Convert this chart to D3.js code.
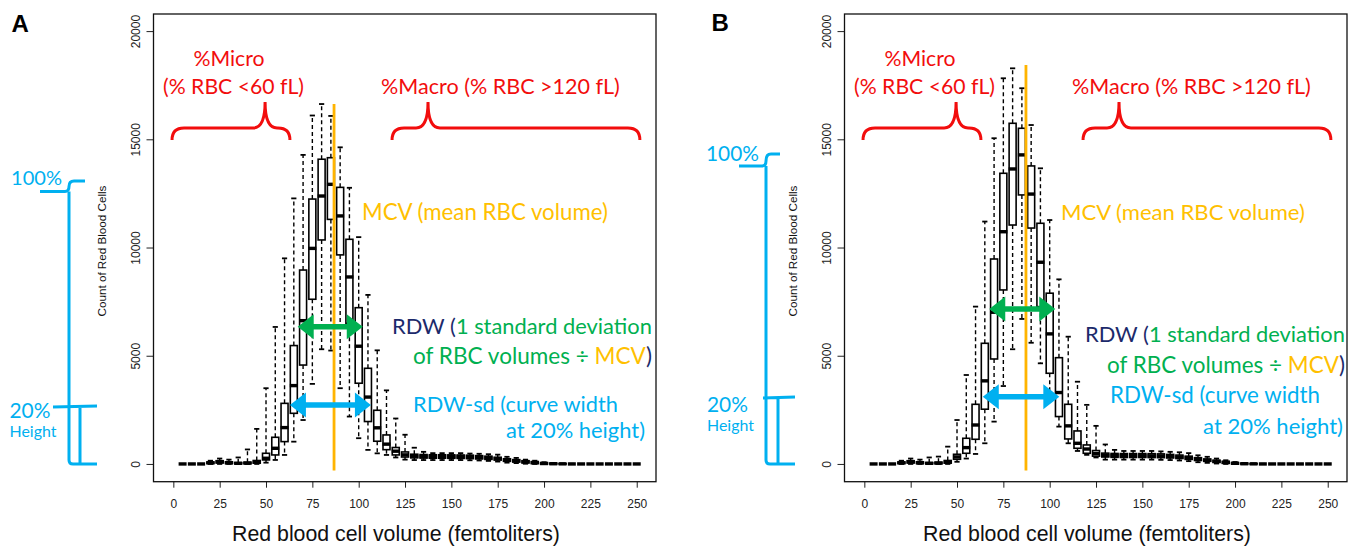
<!DOCTYPE html>
<html>
<head>
<meta charset="utf-8">
<script src="https://cdn.jsdelivr.net/npm/d3@7"></script>
<style>
  body { margin: 0; background: #fff; }
  svg { display: block; }
  .note { font-family: Lato, "Open Sans", sans-serif; }
  .plain { font-family: "Liberation Sans", Arial, sans-serif; }
</style>
</head>
<body>
<svg id="chart" width="1360" height="547"></svg>
<script>
// bin centres, fL
const volumes = [5,10,15,20,25,30,35,40,45,50,55,60,65,70,75,80,85,90,95,100,105,110,115,120,125,
                 130,135,140,145,150,155,160,165,170,175,180,185,190,195,200,205,210,215,220,225,230,235,240,245,250];

// panel A box stats (count of cells)
const aLow  = [0,0,0,0,0,0,0,0,0,60,185,416,1030,2030,3700,5300,5240,3500,2190,1190,650,490,416,300,200,
               180,180,180,180,180,180,170,160,140,110,60,40,10,0,0,0,0,0,0,0,0,0,0,0,0];
const aQ1   = [0,0,0,25,50,25,10,15,40,185,416,1032,2340,4570,7610,10350,11300,9660,6500,3730,1960,1050,660,416,320,
               280,270,265,265,260,255,245,230,210,180,120,90,50,20,0,0,0,0,0,0,0,0,0,0,0];
const aMed  = [0,0,0,50,90,50,30,40,80,262,724,1680,3620,6620,9960,12380,12920,11460,8640,5440,3090,1670,915,590,420,
               360,350,345,345,340,335,325,305,280,240,175,140,95,60,20,10,5,0,0,0,0,0,0,0,0];
const aQ3   = [0,0,0,90,150,100,60,80,160,493,1232,2800,5470,8960,12240,14080,14150,12780,10380,7220,4420,2480,1340,760,555,
               450,435,425,425,420,415,405,385,360,310,240,200,150,110,60,30,10,0,0,0,0,0,0,0,0];
const aHigh = [0,0,0,150,250,200,300,670,1620,3500,6330,9500,12270,14280,16100,16630,16080,14630,12760,10480,7810,5250,3400,2100,1350,
               750,560,500,500,500,500,480,470,450,430,330,280,200,150,80,40,20,10,0,0,0,0,0,0,0];

// panel B box stats
const bLow  = [0,0,0,0,0,0,0,0,0,100,250,462,955,1956,3600,5300,6700,5600,4650,2960,1725,955,600,420,300,
               200,200,200,200,200,200,190,180,160,130,80,50,20,0,0,0,0,0,0,0,0,0,0,0,0];
const bQ1   = [0,0,0,25,50,25,10,15,40,216,493,1140,2530,4850,8040,11040,12430,10900,7270,4190,2190,1155,724,493,360,
               320,305,300,300,300,295,290,275,250,210,160,120,70,30,0,0,0,0,0,0,0,0,0,0,0];
const bMed  = [0,0,0,50,90,50,30,40,80,324,755,1800,3840,7010,10730,13630,14280,12470,9320,6010,3300,1760,955,690,480,
               400,390,385,380,380,375,370,350,320,280,220,170,120,70,30,10,5,0,0,0,0,0,0,0,0];
const bQ3   = [0,0,0,90,150,100,60,80,160,447,1186,2756,5575,9470,13430,15740,15510,13770,11120,7890,4910,2756,1525,878,620,
               500,485,480,480,480,475,465,440,410,360,290,230,170,120,60,30,10,0,0,0,0,0,0,0,0];
const bHigh = [0,0,0,150,250,200,300,340,800,2030,4110,7270,11200,15050,17820,18280,17360,15660,13660,11270,8530,5880,3800,2730,1760,
               900,650,600,600,600,600,580,560,540,500,400,330,250,170,90,40,20,10,0,0,0,0,0,0,0];

const xTicks = [0,25,50,75,100,125,150,175,200,225,250];
const yTicks = [0,5000,10000,15000,20000];

const RED = '#f20d0d', ORANGE = '#ffc000', GOLD = '#ffb400', GREEN = '#00b050', NAVY = '#1c2a6b', BLUE = '#00b0f0';

const svg = d3.select('#chart');
svg.append('rect').attr('width', 1360).attr('height', 547).attr('fill', '#fff');

const x = d3.scaleLinear().domain([-10.7, 260.4]).range([153.5, 656]);
const y = d3.scaleLinear().domain([-820, 20790]).range([481.7, 14]);

// shrink or grow font so the text spans w pixels
function fit(t, w) {
  const len = t.node().getComputedTextLength();
  const fs = parseFloat(t.style('font-size'));
  t.style('font-size', (fs * w / len) + 'px');
}

function note(g, parts, px, py, anchor, w, cls = 'note') {
  const t = g.append('text').attr('class', cls)
    .attr('x', px).attr('y', py).attr('text-anchor', anchor).style('font-size', '20px');
  parts.forEach(([s, c]) => t.append('tspan').attr('fill', c).text(s));
  if (w) fit(t, w);
  return t;
}

function brace(x0, x1, xt, yEnd, yBar, yTip, r) {
  return `M${x0},${yEnd}Q${x0},${yBar} ${x0 + r},${yBar}L${xt - r},${yBar}Q${xt},${yBar} ${xt},${yTip}` +
         `Q${xt},${yBar} ${xt + r},${yBar}L${x1 - r},${yBar}Q${x1},${yBar} ${x1},${yEnd}`;
}

function dblArrow(xa, xb, yc) {
  const hl = 16, hh = 12.5, s = 2.8;
  return d3.line()([[xa, yc], [xa + hl, yc - hh], [xa + hl, yc - s], [xb - hl, yc - s], [xb - hl, yc - hh], [xb, yc],
                    [xb - hl, yc + hh], [xb - hl, yc + s], [xa + hl, yc + s], [xa + hl, yc + hh]]) + 'Z';
}

function panel(dx, s, a) {
  const g = svg.append('g').attr('transform', `translate(${dx},0)`);
  const [x0, x1] = x.range(), [yb, yt] = y.range();

  // axes
  const ya = g.append('g').attr('transform', `translate(${x0},0)`)
    .call(d3.axisLeft(y).tickValues(yTicks).tickSize(7).tickFormat(d3.format('d')));
  ya.select('.domain').remove();
  ya.attr('font-family', '"Liberation Sans", Arial, sans-serif').attr('font-size', 12).attr('color', '#222');
  ya.selectAll('text').attr('x', 0).attr('dy', 0).attr('text-anchor', 'middle')
    .attr('transform', 'translate(-13.5,0) rotate(-90)');

  const xa = g.append('g').attr('transform', `translate(0,${yb})`)
    .call(d3.axisBottom(x).tickValues(xTicks).tickSize(6).tickPadding(12));
  xa.select('.domain').remove();
  xa.attr('font-family', '"Liberation Sans", Arial, sans-serif').attr('font-size', 12).attr('color', '#222');

  g.append('rect').attr('x', x0).attr('y', yt).attr('width', x1 - x0).attr('height', yb - yt)
    .attr('fill', 'none').attr('stroke', '#111').attr('stroke-width', 1.3);

  note(g, [['Count of Red Blood Cells', '#111']], 0, 0, 'middle', 131, 'plain')
    .attr('transform', 'translate(106,251) rotate(-90)');
  note(g, [['Red blood cell volume (femtoliters)', '#111']], 396, 541, 'middle', 328, 'plain');
  note(g, [[a.letter, '#000']], a.letterX, a.letterY, 'start', null, 'plain')
    .style('font-size', '24px').style('font-weight', 'bold');

  // box plots
  const rows = volumes.map((v, i) => ({v, lo: s.low[i], q1: s.q1[i], med: s.med[i], q3: s.q3[i], hi: s.high[i]}));
  const bw = 7;
  const plot = g.append('g');
  plot.selectAll('line.up').data(rows).join('line').attr('class', 'up')
    .attr('x1', d => x(d.v)).attr('x2', d => x(d.v)).attr('y1', d => y(d.q3)).attr('y2', d => y(d.hi));
  plot.selectAll('line.down').data(rows).join('line').attr('class', 'down')
    .attr('x1', d => x(d.v)).attr('x2', d => x(d.v)).attr('y1', d => y(d.q1)).attr('y2', d => y(d.lo));
  plot.selectAll('line.up, line.down').attr('stroke', '#000').attr('stroke-width', 1.4).attr('stroke-dasharray', '4,3');
  plot.selectAll('line.cap').data(rows.flatMap(d => [[d.v, d.hi], [d.v, d.lo]])).join('line').attr('class', 'cap')
    .attr('x1', d => x(d[0]) - 2.6).attr('x2', d => x(d[0]) + 2.6).attr('y1', d => y(d[1])).attr('y2', d => y(d[1]))
    .attr('stroke', '#000').attr('stroke-width', 1.8);
  plot.selectAll('rect.box').data(rows).join('rect').attr('class', 'box')
    .attr('x', d => x(d.v) - bw / 2).attr('width', bw)
    .attr('y', d => y(d.q3)).attr('height', d => y(d.q1) - y(d.q3))
    .attr('fill', '#fff').attr('stroke', '#000').attr('stroke-width', 1.6);
  plot.selectAll('rect.med').data(rows).join('rect').attr('class', 'med')
    .attr('x', d => x(d.v) - bw / 2 - 0.5).attr('width', bw + 1)
    .attr('y', d => y(d.med) - 1.7).attr('height', 3.4).attr('fill', '#000');

  // MCV line
  g.append('line').attr('x1', x(a.mcv)).attr('x2', x(a.mcv)).attr('y1', y(a.mcvTop)).attr('y2', y(-300))
    .attr('stroke', GOLD).attr('stroke-width', 2.8);

  // arrows
  g.append('path').attr('d', dblArrow(x(a.green[0]), x(a.green[1]), y(a.green[2]))).attr('fill', GREEN);
  g.append('path').attr('d', dblArrow(x(a.blue[0]), x(a.blue[1]), y(a.blue[2]))).attr('fill', BLUE);

  // braces for micro / macro
  const bY = [y(14968), y(15522), y(16723)];
  g.append('path').attr('d', brace(x(-0.7), x(62.9), x(49.5), ...bY, 12))
    .attr('fill', 'none').attr('stroke', RED).attr('stroke-width', 3);
  g.append('path').attr('d', brace(x(118), x(251.7), x(137.4), ...bY, 12))
    .attr('fill', 'none').attr('stroke', RED).attr('stroke-width', 3);

  // height brackets on the left
  const b = a.br, yH = y(a.hundred), yT = y(a.twenty), yZ = y(0);
  const bl = g.append('g').attr('fill', 'none').attr('stroke', BLUE).attr('stroke-width', 3);
  bl.append('path').attr('d', `M${b.lineX0},${yH}L${b.vx - 4},${yH}Q${b.vx},${yH} ${b.vx},${yH - 5}` +
    `Q${b.vx},${b.curlY} ${b.vx + 5},${b.curlY}L${b.curlX},${b.curlY}`);
  bl.append('path').attr('d', `M${b.vx},${yH}L${b.vx},${yZ - 4}Q${b.vx},${yZ} ${b.vx + 4},${yZ}L${b.endX},${yZ}`);
  bl.append('path').attr('d', `M${b.smallX0},${yT}L${b.endX},${yT - 1}M${b.smallVx},${yT}L${b.smallVx},${yZ}`);

  // texts
  const t = a.txt;
  const micro2 = note(g, [['(% RBC <60 fL)', RED]], 233.5, 94, 'middle', 141);
  note(g, [['%Micro', RED]], 229, 66, 'middle', null).style('font-size', micro2.style('font-size'));
  note(g, [['%Macro (% RBC >120 fL)', RED]], 500.5, 94, 'middle', 239);
  note(g, [['MCV (mean RBC volume)', ORANGE]], t.mcv[0], t.mcv[1], 'start', t.mcv[2]);
  note(g, [['RDW (', NAVY], ['1 standard deviation', GREEN]], t.rdw1[0], t.rdw1[1], 'start', t.rdw1[2]);
  note(g, [['of RBC volumes ÷ ', GREEN], ['MCV', ORANGE], [')', NAVY]], t.rdw2[0], t.rdw2[1], 'end', t.rdw2[2]);
  note(g, [['RDW-sd (curve width', BLUE]], t.sd1[0], t.sd1[1], 'start', t.sd1[2]);
  note(g, [['at 20% height)', BLUE]], t.sd2[0], t.sd2[1], 'end', t.sd2[2]);
  note(g, [['100%', BLUE]], t.p100[0], t.p100[1], 'start', t.p100[2]);
  note(g, [['20%', BLUE]], t.p20[0], t.p20[1], 'start', t.p20[2]);
  note(g, [['Height', BLUE]], t.h[0], t.h[1], 'start', t.h[2]);
}

panel(0, {low: aLow, q1: aQ1, med: aMed, q3: aQ3, high: aHigh}, {
  letter: 'A', letterX: 11.5, letterY: 32,
  mcv: 86.7, mcvTop: 16630,
  green: [67.1, 102.2, 6340], blue: [62.9, 106.6, 2724],
  hundred: 12585, twenty: 2633,
  br: {lineX0: 40, vx: 69, curlX: 85, curlY: 181, endX: 97, smallX0: 53, smallVx: 80},
  txt: {mcv: [362, 220, 246], rdw1: [392, 334, 260], rdw2: [652, 364, 239], sd1: [413, 412, 205], sd2: [645, 438, 139],
        p100: [11, 185, 51], p20: [9.5, 418, 41], h: [9.5, 437, 47]}
});

panel(691, {low: bLow, q1: bQ1, med: bMed, q3: bQ3, high: bHigh}, {
  letter: 'B', letterX: 20.5, letterY: 31,
  mcv: 87.2, mcvTop: 18430,
  green: [67.4, 103.0, 7160], blue: [63.9, 105.2, 3107],
  hundred: 13767, twenty: 3047,
  br: {lineX0: 48, vx: 75, curlX: 89, curlY: 154, endX: 104, smallX0: 72, smallVx: 87},
  txt: {mcv: [370, 220, 244], rdw1: [394, 342, 260], rdw2: [654, 373, 238], sd1: [419, 403, 210], sd2: [652, 434, 140],
        p100: [15, 161, 53], p20: [16, 412, 41], h: [16, 431, 47]}
});
</script>
</body>
</html>
